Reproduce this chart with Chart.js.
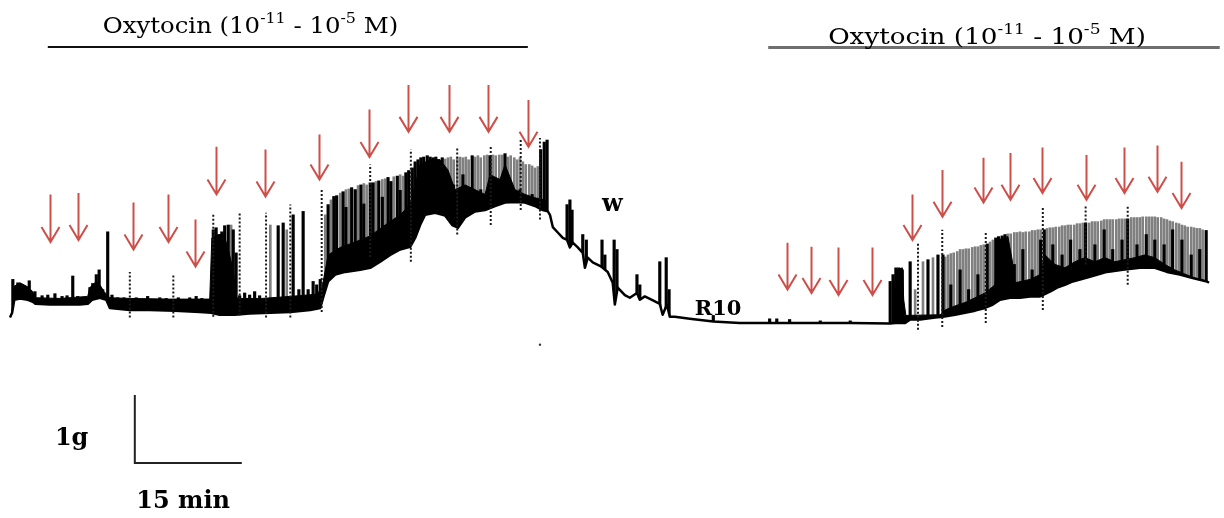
<!DOCTYPE html>
<html lang="en">
<head>
<meta charset="utf-8" />
<title>Oxytocin cumulative response – isometric tension</title>
<style>
  html, body { margin: 0; padding: 0; background: #fff; overflow: hidden; }
  #wrap { width: 1224px; height: 518px; position: relative; }
</style>
</head>
<body>
<div id="wrap"><canvas id="trace"></canvas></div>

<script src="https://cdn.jsdelivr.net/npm/chart.js"></script>
<script>
  // time in min, tension in g (0 g = resting level after the R10 wash)

  // lower edge of the tension record (resting tone)
  const lowerTrace = [
    [1.4,0.18],[1.7,0.25],[2.0,0.44],[2.8,0.46],[3.9,0.44],[4.6,0.41],[5.0,0.38],[7.0,0.37],[9.1,0.37],
    [11.2,0.37],[12.3,0.38],[12.9,0.44],[14.0,0.47],[14.9,0.44],[15.4,0.32],[18.2,0.29],[21.0,0.29],
    [24.5,0.28],[28.0,0.26],[29.6,0.25],[30.8,0.22],[32.9,0.22],[35.0,0.24],[37.9,0.25],[40.7,0.26],
    [43.5,0.29],[44.9,0.32],[45.3,0.47],[46.0,0.71],[47.0,0.81],[48.4,0.85],[50.5,0.88],[51.9,0.91],
    [53.3,1.00],[54.7,1.10],[56.1,1.18],[57.5,1.22],[58.2,1.35],[58.9,1.54],[59.6,1.69],[61.0,1.72],
    [62.4,1.68],[63.4,1.54],[64.2,1.50],[65.2,1.65],[66.6,1.74],[68.0,1.76],[69.4,1.82],[70.8,1.87],
    [72.2,1.88],[73.6,1.87],[75.0,1.82],[76.1,1.76],[76.8,1.74],[77.1,1.69],[77.5,1.51],[78.2,1.43],
    [78.9,1.35],[79.5,1.32],[79.9,1.21],[80.3,1.28],[81.0,1.21],[81.7,1.13],[82.0,0.91],[82.4,1.06],
    [83.1,0.99],[84.1,0.94],[84.5,0.91],[85.2,0.85],[85.9,0.69],[86.2,0.37],[86.6,0.62],[87.6,0.51],
    [88.3,0.47],[89.3,0.54],[89.7,0.44],[90.4,0.49],[91.4,0.44],[92.5,0.38],[92.9,0.22],[93.5,0.37],
    [93.9,0.19],[94.6,0.19],[96.7,0.16],[100.0,0.12],[103.7,0.10],[112.2,0.10],[119.2,0.10],[124.8,0.09],
    [125.5,0.10],[126.9,0.10],[127.6,0.15],[129.0,0.15],[131.1,0.18],[132.2,0.19],[133.9,0.22],
    [135.3,0.25],[136.7,0.28],[138.1,0.32],[139.2,0.37],[140.2,0.44],[141.6,0.47],[143.0,0.47],
    [144.4,0.49],[145.8,0.49],[147.2,0.56],[148.2,0.62],[149.3,0.66],[150.4,0.71],[152.8,0.78],
    [155.2,0.85],[157.4,0.88],[159.8,0.91],[161.9,0.91],[163.6,0.85],[165.4,0.81],[167.2,0.76],
    [169.2,0.71],[169.5,0.69]
  ];

  // top of the solid black band of fused contractions
  const bandEarly = [
    [1.7,0.62],[2.8,0.69],[3.9,0.63],[4.6,0.56],[5.0,0.47],[8.4,0.46],[12.3,0.49],[12.6,0.62],[13.5,0.71],
    [14.0,0.66],[14.6,0.56],[15.4,0.47],[18.2,0.46],[23.8,0.45],[29.4,0.45],[29.7,1.35],[30.6,1.40],
    [31.4,1.40],[32.0,1.18],[32.7,0.88],[33.1,0.47],[33.6,0.46],[36.7,0.46],[40.7,0.49],[44.2,0.52],
    [45.1,0.59],[46.0,1.10],[47.7,1.21],[49.8,1.29],[51.9,1.38],[54.0,1.54],[56.1,1.69],[57.5,1.84],
    [58.2,2.13],[58.9,2.43],[60.3,2.50],[61.7,2.50],[62.8,2.35],[63.8,2.06],[65.2,2.13],[66.6,2.06],
    [68.0,1.99],[68.7,2.28],[70.1,2.21],[70.8,2.43],[72.2,2.06],[73.6,1.99],[75.0,1.94],[76.4,1.91],
    [76.8,1.84]
  ];
  const bandLate = [
    [125.2,0.10],[125.5,0.81],[125.8,0.88],[126.5,0.91],[126.7,0.44],[127.0,0.21],[131.8,0.22],
    [132.5,0.29],[133.9,0.35],[135.3,0.40],[136.7,0.47],[138.1,0.54],[139.5,0.66],[139.9,1.32],
    [141.3,1.37],[141.9,1.03],[142.3,0.69],[144.4,0.74],[145.8,0.81],[146.5,1.10],[147.9,0.96],
    [149.3,0.91],[150.7,1.00],[152.1,1.06],[153.5,1.00],[154.9,1.06],[156.3,1.00],[157.7,1.03],
    [159.1,1.06],[160.5,1.10],[161.9,1.06],[163.3,0.96],[164.7,0.88],[166.1,0.82],[167.5,0.76],
    [169.2,0.71]
  ];

  // individual phasic contractions: [time, peak tension]
  const graySpikes = [
    [32.4,1.54],[37.9,1.54],[40.2,1.47],[45.6,1.69],[46.4,1.91],[47.2,1.97],[47.7,2.01],[48.5,2.06],
    [48.9,2.07],[49.8,2.06],[50.2,2.12],[51.0,2.15],[51.4,2.13],[52.3,2.16],[52.7,2.18],[53.6,2.21],
    [54.0,2.22],[54.8,2.18],[55.2,2.25],[56.1,2.28],[56.5,2.26],[57.3,2.34],[62.4,2.51],[62.8,2.53],
    [63.2,2.54],[63.6,2.50],[64.1,2.53],[64.5,2.54],[64.9,2.53],[65.3,2.54],[65.7,2.50],[66.6,2.54],
    [67.0,2.56],[67.4,2.53],[67.9,2.56],[68.3,2.57],[69.1,2.57],[69.5,2.56],[70.0,2.57],[70.4,2.57],
    [71.2,2.54],[71.6,2.56],[72.1,2.53],[72.5,2.50],[72.9,2.53],[73.3,2.47],[73.7,2.43],[74.2,2.43],
    [74.6,2.41],[75.0,2.38],[75.4,2.40],
    [128.3,0.59],[129.4,1.00],[130.8,1.06],[132.5,1.07],[132.9,1.10],[133.3,1.12],[133.7,1.13],
    [134.2,1.15],[134.6,1.18],[135.0,1.18],[135.4,1.19],[135.8,1.19],[136.3,1.21],[136.7,1.22],
    [137.1,1.22],[137.5,1.24],[137.9,1.25],[138.4,1.26],[138.8,1.29],[139.2,1.32],[141.3,1.41],
    [141.7,1.41],[142.2,1.43],[142.6,1.43],[143.0,1.44],[143.4,1.43],[143.8,1.44],[144.3,1.44],
    [144.7,1.46],[145.1,1.46],[145.5,1.47],[145.9,1.47],[146.8,1.49],[147.2,1.50],[147.6,1.50],
    [148.0,1.51],[148.5,1.51],[148.9,1.53],[149.3,1.53],[149.7,1.54],[150.1,1.54],[150.6,1.54],
    [151.0,1.56],[151.4,1.56],[151.8,1.57],[152.7,1.57],[153.1,1.59],[153.5,1.59],[153.9,1.59],
    [154.4,1.60],[154.8,1.62],[155.2,1.62],[155.6,1.62],[156.0,1.62],[156.5,1.62],[156.9,1.63],
    [157.3,1.63],[157.7,1.63],[158.6,1.65],[159.0,1.65],[159.4,1.65],[159.8,1.65],[160.2,1.66],
    [160.7,1.66],[161.1,1.66],[161.5,1.66],[161.9,1.66],[162.3,1.65],[162.8,1.65],[163.2,1.63],
    [163.6,1.62],[164.0,1.60],[164.4,1.59],[164.9,1.57],[165.3,1.56],[165.7,1.54],[166.1,1.53],
    [166.5,1.51],[167.0,1.51],[167.4,1.50],[167.8,1.49],[168.2,1.49],[168.6,1.47]
  ];
  const blackSpikes = [
    [1.8,0.74],[2.5,0.69],[3.4,0.63],[4.1,0.72],[4.9,0.56],[5.9,0.50],[6.7,0.51],[7.7,0.53],[8.7,0.49],
    [9.4,0.50],[10.2,0.79],[10.9,0.49],[11.8,0.47],[12.6,0.62],[13.0,0.68],[13.5,0.81],[13.9,0.88],
    [14.4,0.59],[15.1,1.44],[15.7,0.51],[16.5,0.47],[17.4,0.47],[19.1,0.47],[19.9,0.44],[20.7,0.49],
    [21.6,0.44],[22.4,0.47],[23.3,0.46],[25.0,0.47],[25.8,0.44],[26.6,0.47],[27.5,0.49],[28.3,0.46],
    [29.0,0.44],
    [29.9,1.47],[30.3,1.50],[30.7,1.38],[31.1,1.44],[31.5,1.53],[32.0,1.54],[32.7,1.47],[33.1,1.13],
    [33.6,0.50],[34.3,0.54],[35.0,0.51],[35.7,0.56],[36.4,0.50],[39.0,1.53],[39.7,1.57],[41.1,1.69],
    [41.9,0.59],[42.5,1.74],[43.2,0.59],[43.9,0.71],[44.4,0.66],[44.9,0.74],
    [46.0,1.84],[46.8,1.96],[47.2,1.97],[48.1,2.03],[48.5,1.80],[49.3,2.09],[49.8,2.06],[50.6,2.13],
    [51.0,1.85],[51.9,2.16],[52.3,2.16],[53.1,2.19],[53.6,1.95],[54.4,2.24],[54.8,2.18],[55.7,2.26],
    [56.1,2.05],[56.9,2.31],[57.3,2.34],[57.8,2.38],[58.2,2.47],[58.6,2.50],[59.0,2.53],[59.4,2.54],
    [59.9,2.56],[60.3,2.54],[60.7,2.53],[61.1,2.54],[61.5,2.50],[62.0,2.53],[63.6,2.13],[64.9,2.28],
    [66.2,2.56],[67.4,2.06],[68.7,2.56],[70.0,2.21],[70.8,2.59],[71.6,2.13],[72.9,2.06],[74.6,1.99],
    [75.8,2.65],[76.3,2.76],[76.7,2.79],
    [79.5,1.84],[79.9,1.91],[80.2,1.76],[81.7,1.40],[82.2,1.32],[84.4,1.32],[84.8,1.10],[86.1,1.32],
    [86.5,1.18],[89.3,0.81],[89.7,0.66],[92.5,1.00],[93.4,1.06],[93.8,0.59],
    [100.0,0.21],[107.9,0.16],[108.9,0.16],[110.7,0.15],[115.0,0.13],[119.2,0.13],
    [124.8,0.71],[125.2,0.81],[125.6,0.91],[126.0,0.91],[126.5,0.88],[127.6,1.00],[130.1,1.03],
    [131.5,1.10],[132.2,1.10],[133.3,0.66],[134.6,0.88],[135.8,0.59],[137.1,0.81],[138.4,1.26],
    [139.6,1.35],[140.0,1.37],[140.5,1.38],[140.9,1.40],[142.2,0.96],[143.4,1.18],[144.7,0.88],
    [145.9,1.32],[146.4,1.47],[147.6,1.25],[148.9,1.10],[150.1,1.32],[151.4,1.18],[152.2,1.57],
    [153.5,1.25],[154.8,1.47],[156.0,1.18],[157.3,1.32],[158.1,1.63],[159.4,1.25],[160.7,1.40],
    [161.9,1.32],[163.2,1.25],[164.4,1.47],[165.7,1.32],[167.0,1.10],[168.2,1.18],[169.1,1.46]
  ];
  const SPIKE_FLOOR = 0;

  // event marks on the record: [time, top, bottom]
  const eventMarks = [
    [18.2,0.85,0.18],[24.3,0.81,0.18],[29.9,1.72,0.19],[33.6,1.72,0.21],[37.3,1.72,0.18],
    [40.7,1.84,0.18],[45.1,2.06,0.26],[51.9,2.43,1.07],[57.6,2.65,1.00],[64.1,2.68,1.40],
    [68.8,2.69,1.54],[73.0,2.79,1.76],[75.7,2.82,1.62],
    [128.7,1.28,0.00],[132.1,1.47,0.04],[138.2,1.44,0.10],[146.2,1.81,0.29],[152.2,1.84,0.96],
    [158.1,1.81,0.66]
  ];
  const strayMark = [[75.7,-0.22]];

  // cumulative oxytocin additions
  const arrowTimes = [7.0,10.9,18.6,23.6,27.3,30.3,37.2,44.7,51.7,57.2,62.9,68.4,74.0,
                      110.3,113.7,117.5,122.2,127.9,132.1,137.8,141.6,146.1,152.2,157.6,162.2,165.6];
  const arrowTop   = [1.99,2.01,1.87,1.99,1.62,2.69,2.65,2.87,3.24,3.60,3.60,3.60,3.38,
                      1.28,1.22,1.21,1.21,1.99,2.35,2.53,2.60,2.68,2.57,2.68,2.71,2.47];
  const arrowTip   = [1.29,1.32,1.18,1.29,0.93,1.99,1.96,2.21,2.54,2.91,2.91,2.91,2.69,
                      0.59,0.54,0.51,0.51,1.32,1.66,1.87,1.91,2.01,1.91,2.01,2.03,1.79];

  // oxytocin exposure periods [start, end] and the level of their bar
  const exposureStart = [6.7, 107.7];
  const exposureEnd   = [74.0, 171.0];
  const exposureLevel = [4.16, 4.15];

  // calibration: 15 min by 1 g
  const calTime  = [18.9, 18.9, 33.9];
  const calForce = [-0.96, -1.96, -1.96];

  const pts = arr => arr.map(([x, y]) => ({ x, y }));
  const spikes = arr => arr.map(([x, p]) => ({ x, y: [SPIKE_FLOOR, p] }));

  const markData = eventMarks.flatMap(([x, top, bottom]) => [
    { x, y: bottom }, { x, y: top }, { x, y: null }
  ]);

  const line = (data, extra) => Object.assign({
    type: 'line', data, pointRadius: 0, borderColor: '#000', borderWidth: 2,
    tension: 0, fill: false, spanGaps: false
  }, extra);

  const ARROW_RED = '#cd4f4a';

  const labels = [
    { text: 'w',      t: 84.4, g: 1.74,  font: 'bold 24px "DejaVu Serif"' },
    { text: 'R10',    t: 97.4, g: 0.21,  font: 'bold 21px "DejaVu Serif"' },
    { text: '1g',     t: 7.7,  g: -1.69, font: 'bold 24px "DejaVu Serif"' },
    { text: '15 min', t: 19.1, g: -2.62, font: 'bold 24px "DejaVu Serif"' }
  ];
  // title anchors with their horizontal stretch
  const titles = [{ t: 14.4, g: 4.37, stretch: 1.06 }, { t: 116.1, g: 4.21, stretch: 1.14 }];

  function drawTitle(ctx, x0, yb, stretch) {
    const size = 23;
    const parts = [['Oxytocin (10', false], ['-11', true], [' - 10', false], ['-5', true], [' M)', false]];
    ctx.save();
    ctx.translate(x0, yb);
    ctx.scale(stretch, 1);
    let x = 0;
    for (const [s, sup] of parts) {
      ctx.font = (sup ? Math.round(size * 0.64) : size) + 'px "DejaVu Serif"';
      ctx.fillText(s, x, sup ? -size * 0.4 : 0);
      x += ctx.measureText(s).width;
    }
    ctx.restore();
  }

  const overlay = {
    id: 'overlay',
    afterDatasetsDraw(chart) {
      const { ctx, scales: { x, y } } = chart;
      ctx.save();

      ctx.strokeStyle = ARROW_RED;
      ctx.lineWidth = 2;
      arrowTimes.forEach((t, i) => {
        const px = Math.round(x.getPixelForValue(t)) + 0.5;
        const top = y.getPixelForValue(arrowTop[i]);
        const tip = y.getPixelForValue(arrowTip[i]);
        ctx.beginPath();
        ctx.moveTo(px, top);
        ctx.lineTo(px, tip);
        ctx.moveTo(px - 9, tip - 15);
        ctx.lineTo(px, tip);
        ctx.lineTo(px + 9, tip - 15);
        ctx.stroke();
      });

      ctx.fillStyle = '#000';
      ctx.textBaseline = 'alphabetic';
      titles.forEach(p => drawTitle(ctx, x.getPixelForValue(p.t), y.getPixelForValue(p.g), p.stretch));
      labels.forEach(l => {
        ctx.font = l.font;
        ctx.fillText(l.text, x.getPixelForValue(l.t), y.getPixelForValue(l.g));
      });
      ctx.restore();
    }
  };

  new Chart(document.getElementById('trace'), {
    type: 'line',
    data: {
      datasets: [
        { type: 'bar', data: spikes(graySpikes), backgroundColor: '#808080', barThickness: 2,
          grouped: false, borderWidth: 0, order: 60 },
        { type: 'bar', data: spikes(blackSpikes), backgroundColor: '#000', barThickness: 2.5,
          grouped: false, borderWidth: 0, order: 50 },
        line(pts(bandEarly), { fill: 'start', backgroundColor: '#000', borderWidth: 1, order: 40 }),
        line(pts(bandLate),  { fill: 'start', backgroundColor: '#000', borderWidth: 1, order: 40 }),
        line(pts(lowerTrace), { fill: 'start', backgroundColor: '#fff', borderWidth: 2.5,
          borderJoinStyle: 'round', order: 30 }),
        line(markData, { borderColor: '#1a1a1a', borderWidth: 2, borderDash: [2, 2], order: 20 }),
        line(pts(strayMark), { showLine: false, pointRadius: 1.2, pointBackgroundColor: '#333',
          pointBorderWidth: 0, order: 20 }),
        line([{ x: exposureStart[0], y: exposureLevel[0] }, { x: exposureEnd[0], y: exposureLevel[0] }],
          { borderColor: '#111', borderWidth: 2, order: 10 }),
        line([{ x: exposureStart[1], y: exposureLevel[1] }, { x: exposureEnd[1], y: exposureLevel[1] }],
          { borderColor: '#6f6f6f', borderWidth: 3, order: 10 }),
        line(calTime.map((t, i) => ({ x: t, y: calForce[i] })),
          { borderColor: '#222', borderWidth: 2, borderJoinStyle: 'miter', order: 10 })
      ]
    },
    options: {
      responsive: true,
      maintainAspectRatio: false,
      animation: false,
      events: [],
      layout: { padding: 0, autoPadding: false },
      plugins: { legend: { display: false }, tooltip: { enabled: false } },
      scales: {
        x: { type: 'linear', min: 0, max: 171.6, offset: false, display: false },
        y: { type: 'linear', min: -2.77, max: 4.85, display: false }
      }
    },
    plugins: [overlay]
  });
</script>
</body>
</html>
